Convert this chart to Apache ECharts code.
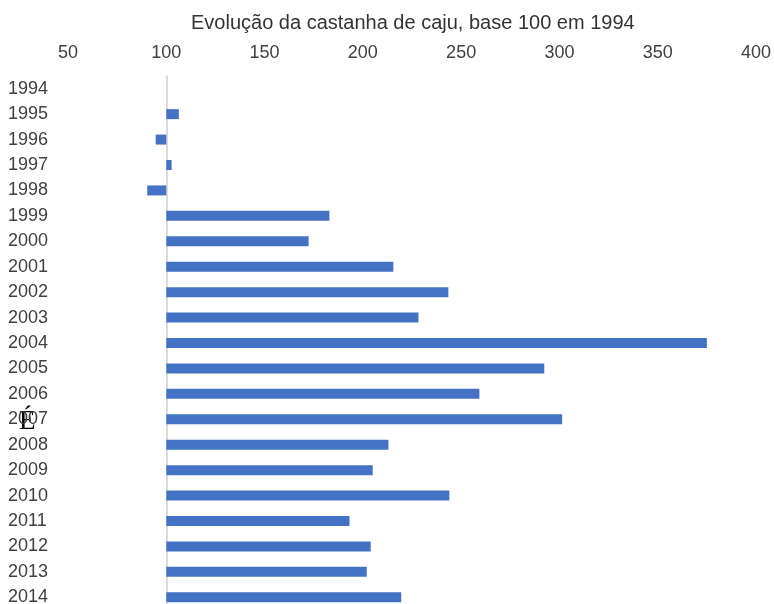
<!DOCTYPE html>
<html><head><meta charset="utf-8">
<script src="https://cdn.jsdelivr.net/npm/echarts@6/dist/echarts.min.js"></script>
<style>html,body{margin:0;padding:0;background:#fff;overflow:hidden}#c{width:774px;height:620px}</style>
</head><body><div id="c"></div>
<script>
const titleText = 'Evolução da castanha de caju, base 100 em 1994';
const years = ['1994','1995','1996','1997','1998','1999','2000','2001','2002','2003','2004','2005','2006','2007','2008','2009','2010','2011','2012','2013','2014'];
const index100 = [100,106.4,94.6,102.7,90.3,183,172.4,215.5,243.5,228.3,375,292.3,259.3,301.4,213,205,244,193.2,204,202,219.5];
const base = 100;
const axisMin = 50, axisMax = 400, axisStep = 50;

const chart = echarts.init(document.getElementById('c'), null, {renderer:'canvas'});
const font = 'Liberation Sans';
chart.setOption({
  animation:false,
  title:{text:titleText,left:186,top:8,textStyle:{fontFamily:font,fontSize:20,fontWeight:'normal',color:'#333333'}},
  grid:{left:68,right:17,top:76,bottom:10,containLabel:false},
  xAxis:{type:'value',position:'top',min:axisMin-base,max:axisMax-base,interval:axisStep,
    axisLine:{show:false},axisTick:{show:false},splitLine:{show:false},
    axisLabel:{margin:14,fontFamily:font,fontSize:18,color:'#404040',formatter:v=>String(v+base)}},
  yAxis:{type:'category',data:years,inverse:true,
    axisLine:{show:true,onZero:true,lineStyle:{color:'#CFCFCF',width:1.5}},
    axisTick:{show:false},
    axisLabel:{align:'left',margin:60,fontFamily:font,fontSize:18,color:'#404040'}},
  series:[{type:'bar',data:index100.map(v=>v-base),barWidth:10,
    itemStyle:{color:'#4472C4',borderWidth:0}}],
  graphic:[{type:'text',left:19,top:408,style:{text:'É',font:'27px "Liberation Serif"',fill:'#000'}}]
});
</script></body></html>
